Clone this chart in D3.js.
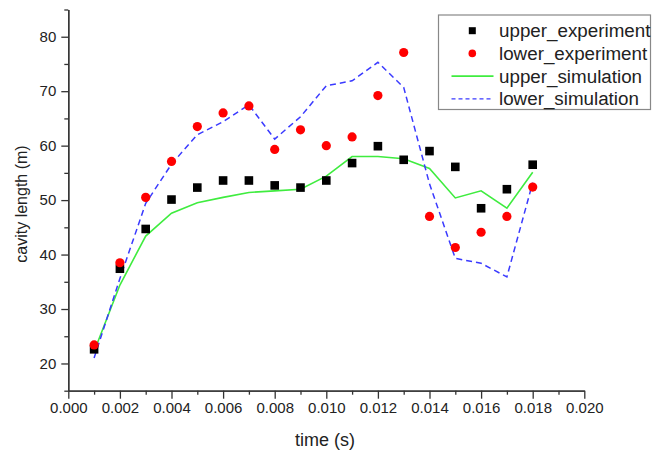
<!DOCTYPE html>
<html>
<head>
<meta charset="utf-8">
<script src="https://cdn.jsdelivr.net/npm/d3@7"></script>
<style>
  body { margin: 0; background: #fff; }
  svg { font-family: "Liberation Sans", Arial, sans-serif; }
</style>
</head>
<body>
<svg></svg>
<script>
let width = 653;
let height = 452;

let times = [0.001, 0.002, 0.003, 0.004, 0.005, 0.006, 0.007, 0.008, 0.009,
             0.010, 0.011, 0.012, 0.013, 0.014, 0.015, 0.016, 0.017, 0.018];
let upperExperiment = [22.6, 37.4, 44.7, 50.1, 52.3, 53.6, 53.6, 52.7, 52.3,
                       53.6, 56.8, 59.9, 57.4, 59.0, 56.1, 48.5, 52.0, 56.5];
let lowerExperiment = [23.4, 38.5, 50.5, 57.1, 63.5, 66.0, 67.3, 59.3, 62.9,
                       60.0, 61.6, 69.2, 77.1, 47.0, 41.3, 44.1, 47.0, 52.4];
let upperSimulation = [22.2, 34.4, 43.4, 47.6, 49.5, 50.5, 51.4, 51.7, 52.0,
                       54.4, 58.0, 58.0, 57.6, 55.8, 50.4, 51.7, 48.5, 55.1];
let lowerSimulation = [21.0, 35.6, 49.4, 56.6, 62.0, 64.4, 67.5, 61.2, 65.3,
                       71.0, 71.9, 75.3, 70.7, 53.0, 39.3, 38.4, 35.9, 53.2];
let xTicks = [0, 0.002, 0.004, 0.006, 0.008, 0.010, 0.012, 0.014, 0.016, 0.018, 0.020];
let yTicks = [20, 30, 40, 50, 60, 70, 80];
let legendNames = ['upper_experiment', 'lower_experiment', 'upper_simulation', 'lower_simulation'];

let green = '#3fec3f';
let blue = '#3a3aff';
let axisColor = '#333';

let xScale = d3.scaleLinear().domain([0, 0.02]).range([68.3, 584.3]);
let yScale = d3.scaleLinear().domain([15, 85]).range([390.7, 9.5]);

let svg = d3.select('svg')
    .attr('width', width)
    .attr('height', height);

// axes: major ticks with labels, minor ticks without
let xAxis = d3.axisBottom(xScale)
    .tickValues(xTicks)
    .tickSize(8)
    .tickSizeOuter(0)
    .tickPadding(4)
    .tickFormat(d3.format('.3f'));

let xMinor = d3.axisBottom(xScale)
    .tickValues(d3.range(1, 20, 2).map(d => d / 1000))
    .tickSize(4)
    .tickSizeOuter(0)
    .tickFormat('');

let yAxis = d3.axisLeft(yScale)
    .tickValues(yTicks)
    .tickSize(7)
    .tickSizeOuter(0)
    .tickPadding(5);

let yMinor = d3.axisLeft(yScale)
    .tickValues([15, 25, 35, 45, 55, 65, 75, 85])
    .tickSize(4)
    .tickSizeOuter(0)
    .tickFormat('');

svg.append('g')
    .attr('transform', `translate(0, ${yScale(15)})`)
    .call(xAxis);
svg.append('g')
    .attr('transform', `translate(0, ${yScale(15)})`)
    .call(xMinor);

svg.append('g')
    .attr('transform', `translate(${xScale(0)}, 0)`)
    .call(yAxis);
svg.append('g')
    .attr('transform', `translate(${xScale(0)}, 0)`)
    .call(yMinor);

svg.selectAll('.domain, .tick line')
    .attr('stroke', axisColor)
    .attr('stroke-width', 1.3);
svg.selectAll('.tick text')
    .attr('fill', '#222')
    .style('font-size', '15px');

// simulation lines
let line = d3.line()
    .x((d, i) => xScale(times[i]))
    .y(d => yScale(d));

svg.append('path')
    .datum(upperSimulation)
    .attr('d', line)
    .attr('fill', 'none')
    .attr('stroke', green)
    .attr('stroke-width', 1.6);

svg.append('path')
    .datum(lowerSimulation)
    .attr('d', line)
    .attr('fill', 'none')
    .attr('stroke', blue)
    .attr('stroke-width', 1.5)
    .attr('stroke-dasharray', '6,4');

// experiment markers
svg.selectAll('.sq')
    .data(upperExperiment)
    .enter()
    .append('rect')
        .attr('class', 'sq')
        .attr('x', (d, i) => xScale(times[i]) - 4.3)
        .attr('y', d => yScale(d) - 4.3)
        .attr('width', 8.6)
        .attr('height', 8.6)
        .attr('fill', '#000');

svg.selectAll('.dot')
    .data(lowerExperiment)
    .enter()
    .append('circle')
        .attr('class', 'dot')
        .attr('cx', (d, i) => xScale(times[i]))
        .attr('cy', d => yScale(d))
        .attr('r', 4.6)
        .attr('fill', '#f00');

// axis titles
svg.append('text')
    .attr('x', 325)
    .attr('y', 446)
    .style('text-anchor', 'middle')
    .style('font-size', '18px')
    .attr('fill', '#222')
    .text('time (s)');

svg.append('text')
    .attr('transform', 'rotate(-90)')
    .attr('x', -204)
    .attr('y', 27)
    .style('text-anchor', 'middle')
    .style('font-size', '16px')
    .attr('fill', '#222')
    .text('cavity length (m)');

// legend
let legend = svg.append('g');
legend.append('rect')
    .attr('x', 438.5)
    .attr('y', 15)
    .attr('width', 212)
    .attr('height', 94.5)
    .attr('fill', '#fff')
    .attr('stroke', '#888')
    .attr('stroke-width', 1.2);

let rowY = i => 30.7 + i * 22.7;

legend.append('rect')
    .attr('x', 468.8).attr('y', rowY(0) - 3.5)
    .attr('width', 7).attr('height', 7)
    .attr('fill', '#000');
legend.append('circle')
    .attr('cx', 472.3).attr('cy', rowY(1))
    .attr('r', 3.8)
    .attr('fill', '#f00');
legend.append('line')
    .attr('x1', 451.5).attr('x2', 493.5)
    .attr('y1', rowY(2)).attr('y2', rowY(2))
    .attr('stroke', green)
    .attr('stroke-width', 1.6);
legend.append('line')
    .attr('x1', 451.5).attr('x2', 493.5)
    .attr('y1', rowY(3)).attr('y2', rowY(3))
    .attr('stroke', blue)
    .attr('stroke-width', 1.3)
    .attr('stroke-dasharray', '4,3');

legend.selectAll('.lbl')
    .data(legendNames)
    .enter()
    .append('text')
        .attr('class', 'lbl')
        .attr('x', 499)
        .attr('y', (d, i) => rowY(i))
        .attr('dy', '0.35em')
        .style('font-size', '18.8px')
        .attr('fill', '#222')
        .text(d => d);
</script>
</body>
</html>
